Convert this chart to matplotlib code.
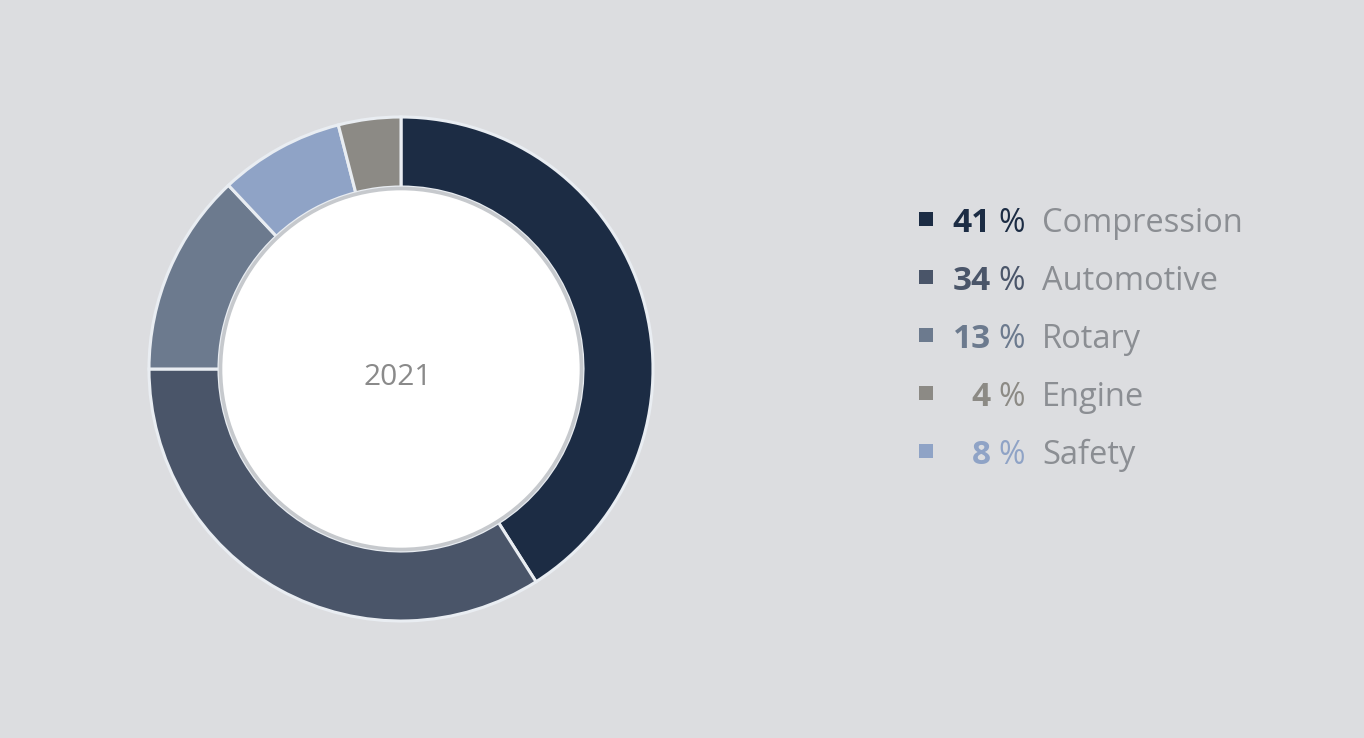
import matplotlib
matplotlib.use("Agg")
import matplotlib.pyplot as plt
from matplotlib.patches import Circle

# chart data
segments = ["Compression", "Automotive", "Rotary", "Safety", "Engine"]
shares = [41, 34, 13, 8, 4]
segment_colors = ["#1c2c44", "#4a5569", "#6c7a8e", "#8fa3c6", "#8c8a85"]

legend_order = ["Compression", "Automotive", "Rotary", "Engine", "Safety"]
year_label = "2021"

bg = "#dcdde0"
label_gray = "#8b8e93"
plt.rcParams['font.family'] = ['Open Sans', 'DejaVu Sans']

W, H = 1364, 738
fig = plt.figure(figsize=(W / 100, H / 100), dpi=100, facecolor=bg)

# donut axes, sized in pixels
cx, cy, r_out, r_in = 401, 369, 252, 182
half = 262
ax = fig.add_axes([(cx - half) / W, (H - cy - half) / H, 2 * half / W, 2 * half / H])
ax.set_facecolor(bg)

ax.pie(shares, colors=segment_colors, startangle=90, counterclock=False,
       radius=1.0,
       wedgeprops=dict(width=1 - r_in / r_out, edgecolor="#e9edf2", linewidth=2.2))
ax.add_patch(Circle((0, 0), r_in / r_out - 0.006, facecolor="white",
                    edgecolor="#c6c9cd", linewidth=2.6, zorder=5))
ax.text(-0.012, -0.064, year_label, ha="center", va="baseline", fontsize=21.5,
        color="#8a8a8a", zorder=6)
# pie() resets the limits, so set them afterwards
ax.set_xlim(-half / r_out, half / r_out)
ax.set_ylim(-half / r_out, half / r_out)
ax.set_aspect("equal")
ax.axis("off")

# legend drawn as text in a full-figure overlay
lg = fig.add_axes([0, 0, 1, 1], facecolor="none")
lg.set_xlim(0, W)
lg.set_ylim(H, 0)
lg.axis("off")

row_y = [219, 277, 335, 393, 451]
for y, name in zip(row_y, legend_order):
    i = segments.index(name)
    col = segment_colors[i]
    lg.scatter([926], [y], marker="s", s=90, color=col, linewidths=0)
    lg.text(991, y + 12.5, str(shares[i]), ha="right", va="baseline", fontsize=24,
            fontweight="bold", color=col)
    lg.text(998, y + 12.5, "%", ha="left", va="baseline", fontsize=23, color=col)
    lg.text(1042, y + 12.5, name, ha="left", va="baseline", fontsize=23.5,
            color=label_gray)

fig.savefig("out.png", dpi=100, facecolor=bg)
